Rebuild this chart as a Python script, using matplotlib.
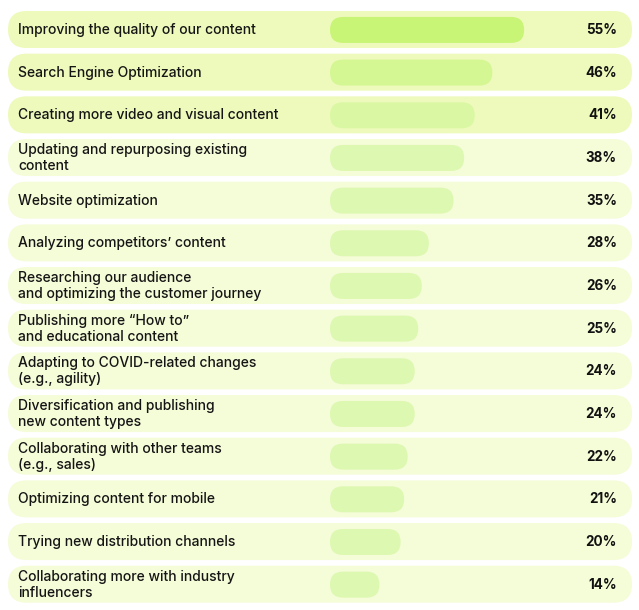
import matplotlib
matplotlib.use("Agg")
import matplotlib.pyplot as plt
from matplotlib.patches import FancyBboxPatch
import matplotlib.transforms as mtransforms

categories = [
    "Improving the quality of our content",
    "Search Engine Optimization",
    "Creating more video and visual content",
    "Updating and repurposing existing\ncontent",
    "Website optimization",
    "Analyzing competitors\u2019 content",
    "Researching our audience\nand optimizing the customer journey",
    "Publishing more \u201cHow to\u201d\nand educational content",
    "Adapting to COVID-related changes\n(e.g., agility)",
    "Diversification and publishing\nnew content types",
    "Collaborating with other teams\n(e.g., sales)",
    "Optimizing content for mobile",
    "Trying new distribution channels",
    "Collaborating more with industry\ninfluencers",
]
values = [55, 46, 41, 38, 35, 28, 26, 25, 24, 24, 22, 21, 20, 14]
labels = [f"{v}%" for v in values]

row_colors = ["#eefabb", "#eefabb", "#eefabb"] + ["#f5fcd8"] * 11
bar_colors = ["#c8f576", "#d4f794", "#daf8a3"] + ["#ddf8b0"] * 11

W, H, DPI = 639, 610, 100
fig = plt.figure(figsize=(W / DPI, H / DPI), dpi=DPI)
ax = fig.add_axes([0, 0, 1, 1])

px_per_pct = 3.53
row_px = 42.67
x0_px = 330
y0_px = 29.5
ax.set_xlim(-x0_px / px_per_pct, (W - x0_px) / px_per_pct)
ax.set_ylim((H - y0_px) / row_px, -y0_px / row_px)
ax.axis("off")

aspect = px_per_pct / row_px  # y-units per x-unit for circular corners

# row backgrounds
bg_left = (8 - x0_px) / px_per_pct
bg_right = (632 - x0_px) / px_per_pct
bg_h = 37 / row_px
bg_r = 18.5 / px_per_pct
bar_h = 26 / row_px
bar_r = 13 / px_per_pct

for i, (cat, v, lab) in enumerate(zip(categories, values, labels)):
    bg = FancyBboxPatch((bg_left, i - bg_h / 2), bg_right - bg_left, bg_h,
                        boxstyle=f"round,pad=0,rounding_size={bg_r}",
                        mutation_aspect=aspect, fc=row_colors[i], ec="none", zorder=1)
    ax.add_patch(bg)
    bar = FancyBboxPatch((0, i - bar_h / 2 + 0.01), v, bar_h,
                         boxstyle=f"round,pad=0,rounding_size={bar_r}",
                         mutation_aspect=aspect, fc=bar_colors[i], ec="none", zorder=2)
    ax.add_patch(bar)

trans = mtransforms.blended_transform_factory(ax.transAxes, ax.transData)
for i, (cat, lab) in enumerate(zip(categories, labels)):
    ax.text(18 / W, i + 0.01, cat, transform=trans, ha="left", va="center",
            fontsize=10.0, family="Inter", weight="medium", color="#151515",
            linespacing=1.2, zorder=3)
    ax.text(617 / W, i + 0.01, lab, transform=trans, ha="right", va="center",
            fontsize=9.7, family="Inter", weight="bold", color="#111111", zorder=3)

fig.savefig("out.png", dpi=DPI)
